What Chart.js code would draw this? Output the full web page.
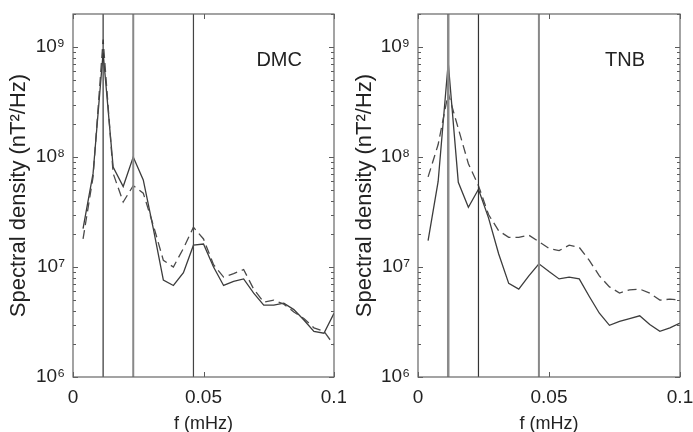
<!DOCTYPE html>
<html><head><meta charset="utf-8">
<script src="https://cdn.jsdelivr.net/npm/chart.js@4/dist/chart.umd.min.js"></script>
<style>
html,body{margin:0;padding:0;background:#fff;}
#wrap{position:relative;width:693px;height:432px;overflow:hidden;background:#fff;}
.c{position:absolute;top:0;}
</style></head><body>
<div id="wrap">
<canvas id="dmc" class="c" style="left:0" width="346" height="432"></canvas>
<canvas id="tnb" class="c" style="left:346px" width="347" height="432"></canvas>
</div>
<script>
// ---- data ----
const freqs = [0.00385,0.00769,0.01154,0.01538,0.01923,0.02308,0.02692,0.03077,0.03462,0.03846,
  0.04231,0.04615,0.05,0.05385,0.05769,0.06154,0.06538,0.06923,0.07308,0.07692,
  0.08077,0.08462,0.08846,0.09231,0.09615,0.1];
const dmcSolid = [2.24e7,7.1e7,8.9e8,8.1e7,5.4e7,1.0e8,6.2e7,2.24e7,7.6e6,6.8e6,
  8.9e6,1.58e7,1.62e7,1.0e7,6.8e6,7.4e6,7.8e6,5.8e6,4.5e6,4.5e6,
  4.7e6,4.1e6,3.3e6,2.6e6,2.5e6,3.8e6];
const dmcDashed = [1.8e7,6.6e7,1.17e9,7.1e7,3.9e7,5.5e7,4.7e7,2.4e7,1.15e7,1.0e7,
  1.48e7,2.3e7,1.8e7,1.05e7,8.1e6,8.7e6,9.5e6,6.3e6,4.8e6,5.0e6,
  4.6e6,3.9e6,3.4e6,2.8e6,2.6e6,1.95e6];
const tnbSolid = [1.74e7,6.0e7,7.2e8,5.9e7,3.5e7,5.1e7,2.8e7,1.32e7,7.1e6,6.3e6,
  8.3e6,1.07e7,9.1e6,7.8e6,8.1e6,7.8e6,5.4e6,3.8e6,2.95e6,3.2e6,
  3.4e6,3.6e6,3.0e6,2.6e6,2.8e6,3.1e6];
const tnbDashed = [6.6e7,1.3e8,3.8e8,1.82e8,8.7e7,5.5e7,3.0e7,2.14e7,1.86e7,1.86e7,
  1.95e7,1.7e7,1.48e7,1.41e7,1.58e7,1.51e7,1.15e7,8.3e6,6.6e6,5.8e6,
  6.2e6,6.3e6,5.8e6,5.0e6,5.1e6,5.0e6];
const harmonicFreqs = [0.01154, 0.02308, 0.04615];
const yTickLabels = ['10\u2076','10\u2077','10\u2078','10\u2079'];
const xTickLabels = ['0','0.05','0.1'];
const stationNames = ['DMC','TNB'];

const Y_MIN = 1e6, Y_MAX = 2e9;
const FONT = "'Liberation Sans', Arial, sans-serif";

function pts(v){ return freqs.map((f,i)=>({x:f,y:v[i]})); }
function vline(f,color,w){
  return {data:[{x:f,y:Y_MIN},{x:f,y:Y_MAX}],borderColor:color,borderWidth:w,pointRadius:0,order:0};
}

const frame = {
  id:'frame',
  afterDraw(chart, args, opts){
    const {ctx, chartArea:a, scales} = chart;
    const x = scales.x, y = scales.y;
    ctx.save();
    ctx.strokeStyle = '#5a5a5a';
    ctx.lineWidth = 1;
    ctx.beginPath();
    for (let d = 6; d <= 9; d++) {
      for (let k = 1; k <= 9; k++) {
        const v = k * Math.pow(10, d);
        if (v < Y_MIN || v > Y_MAX) continue;
        const py = Math.round(y.getPixelForValue(v)) + 0.5;
        const L = k === 1 ? 5 : 3;
        ctx.moveTo(a.left, py); ctx.lineTo(a.left + L, py);
        ctx.moveTo(a.right, py); ctx.lineTo(a.right - L, py);
      }
    }
    [0, 0.05, 0.1].forEach(v=>{
      const px = Math.round(x.getPixelForValue(v)) + 0.5;
      ctx.moveTo(px, a.bottom); ctx.lineTo(px, a.bottom - 5);
      ctx.moveTo(px, a.top); ctx.lineTo(px, a.top + 5);
    });
    ctx.stroke();
    ctx.strokeStyle = '#666';
    ctx.lineWidth = 1.2;
    ctx.strokeRect(a.left, a.top, a.right - a.left, a.bottom - a.top);
    ctx.fillStyle = '#222';
    ctx.font = '20px ' + FONT;
    ctx.textAlign = 'center';
    ctx.textBaseline = 'middle';
    ctx.fillText(opts.label, a.left + (a.right - a.left) * 0.79, y.getPixelForValue(7.6e8));
    ctx.restore();
  }
};

function makeChart(id, solid, dashed, vcolors, label, axisW, padR){
  return new Chart(document.getElementById(id), {
    type:'line',
    data:{datasets:[
      vline(harmonicFreqs[0], vcolors[0][0], vcolors[0][1]),
      vline(harmonicFreqs[1], vcolors[1][0], vcolors[1][1]),
      vline(harmonicFreqs[2], vcolors[2][0], vcolors[2][1]),
      {data:pts(dashed),borderColor:'#4a4a4a',borderWidth:1.3,borderDash:[9,5],pointRadius:0,tension:0},
      {data:pts(solid),borderColor:'#3c3c3c',borderWidth:1.3,pointRadius:0,tension:0}
    ]},
    options:{
      responsive:false, animation:false, devicePixelRatio:1,
      layout:{padding:{top:14,right:padR,left:0,bottom:0}},
      plugins:{legend:{display:false},tooltip:{enabled:false},frame:{label}},
      scales:{
        x:{type:'linear',min:0,max:0.1,
          afterFit(s){ s.height = 55; s.paddingLeft = 0; s.paddingRight = 0; },
          afterBuildTicks(s){ s.ticks = [0,0.05,0.1].map(v=>({value:v})); },
          ticks:{color:'#222',font:{family:FONT,size:19},padding:9,maxRotation:0,autoSkip:false,
            callback:(v,i)=>xTickLabels[i]},
          grid:{display:true,drawOnChartArea:false,drawTicks:false},
          border:{display:false},
          title:{display:true,text:'f (mHz)',color:'#222',font:{family:FONT,size:18},padding:{top:0,bottom:-3}}
        },
        y:{type:'logarithmic',min:Y_MIN,max:Y_MAX,
          afterFit(s){ s.width = axisW; s.paddingTop = 0; s.paddingBottom = 0; },
          ticks:{color:'#222',font:{family:FONT,size:19},padding:8,autoSkip:false,
            callback:(v)=>{ const e = Math.round(Math.log10(v)); return Math.abs(v - Math.pow(10,e)) < 1e-6*v ? yTickLabels[e-6] : ''; }},
          grid:{display:true,drawOnChartArea:false,drawTicks:false},
          border:{display:false},
          title:{display:true,text:'Spectral density (nT\u00b2/Hz)',color:'#222',font:{family:FONT,size:22},padding:{top:6,bottom:0}}
        }
      }
    },
    plugins:[frame]
  });
}

makeChart('dmc', dmcSolid, dmcDashed, [['#333',1.2],['#888',2],['#444',1.2]], stationNames[0], 73, 12);
makeChart('tnb', tnbSolid, tnbDashed, [['#8a8a8a',2.5],['#333',1.2],['#888',2]], stationNames[1], 72, 13);
</script>
</body></html>
